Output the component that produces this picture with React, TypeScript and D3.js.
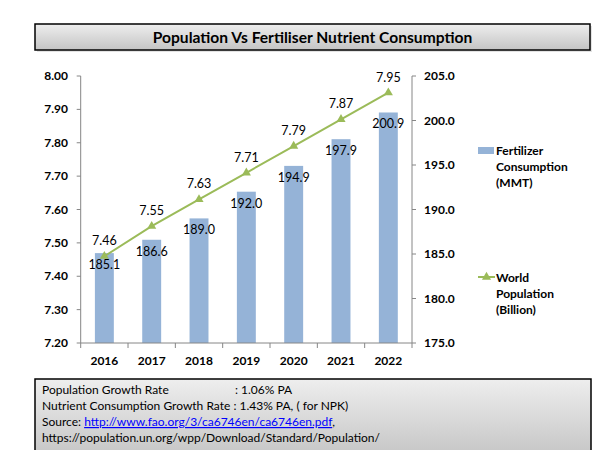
import React from "react";
import * as d3 from "d3";

const years = ["2016", "2017", "2018", "2019", "2020", "2021", "2022"];
const fertilizer = [185.1, 186.6, 189.0, 192.0, 194.9, 197.9, 200.9];
const population = [7.46, 7.55, 7.63, 7.71, 7.79, 7.87, 7.95];
const leftTicks = [7.2, 7.3, 7.4, 7.5, 7.6, 7.7, 7.8, 7.9, 8.0];
const rightTicks = [175, 180, 185, 190, 195, 200, 205];
const title = "Population Vs Fertiliser Nutrient Consumption";
const legendBar = ["Fertilizer", "Consumption", "(MMT)"];
const legendLine = ["World", "Population", "(Billion)"];

const FONT = "Lato, 'Open Sans', sans-serif";
const AXIS = "#868686";
const BAR = "#95B3D7";
const LINE = "#9BBB59";

export default function App() {
  const left = 80.7, right = 412, top = 76, bottom = 343;
  const x = d3.scaleBand<string>().domain(years).range([left, right]).paddingInner(0.6).paddingOuter(0.3);
  const yL = d3.scaleLinear().domain([7.2, 8.0]).range([bottom, top]);
  const yR = d3.scaleLinear().domain([175, 205]).range([bottom, top]);
  const step = x.step();
  const cx = (y: string) => (x(y) as number) + x.bandwidth() / 2;
  const line = d3.line<number>().x((_, i) => cx(years[i])).y((d) => yL(d));
  const tri = d3.symbol().type(d3.symbolTriangle).size(36)();

  return (
    <svg width={600} height={450} style={{ position: "absolute", left: 0, top: 0, background: "#fff" }} fontFamily={FONT}>
      <defs>
        <linearGradient id="g" x1="0" y1="0" x2="0" y2="1">
          <stop offset="0" stopColor="#eeeeee" />
          <stop offset="1" stopColor="#c4c4c4" />
        </linearGradient>
      </defs>
      {/* title box */}
      <rect x={37} y={26} width={555} height={26} fill="#d0d0d0" opacity={0.6} />
      <rect x={35} y={24} width={555} height={26} fill="url(#g)" stroke="#000" strokeWidth={1.5} />
      <text x={312.5} y={43} textAnchor="middle" fontWeight="bold" fontSize={15.6} fill="#000">{title}</text>

      {/* bars */}
      {fertilizer.map((v, i) => (
        <rect key={years[i]} x={x(years[i])} y={yR(v)} width={x.bandwidth()} height={bottom - yR(v)} fill={BAR} />
      ))}

      {/* left axis */}
      <line x1={left} x2={left} y1={top} y2={bottom} stroke={AXIS} />
      {leftTicks.map((t) => (
        <g key={t}>
          <line x1={left - 4} x2={left} y1={yL(t)} y2={yL(t)} stroke={AXIS} />
          <text x={68} y={yL(t) + 4} textAnchor="end" fontWeight="bold" fontSize={12}>{d3.format(".2f")(t)}</text>
        </g>
      ))}
      {/* right axis */}
      <line x1={right} x2={right} y1={top} y2={bottom} stroke={AXIS} />
      {rightTicks.map((t) => (
        <g key={t}>
          <line x1={right} x2={right + 4} y1={yR(t)} y2={yR(t)} stroke={AXIS} />
          <text x={424} y={yR(t) + 4} textAnchor="start" fontWeight="bold" fontSize={12}>{d3.format(".1f")(t)}</text>
        </g>
      ))}
      {/* x axis */}
      <line x1={left} x2={right} y1={bottom} y2={bottom} stroke={AXIS} />
      {years.map((y, i) => (
        <g key={y}>
          <line x1={cx(y) - step / 2} x2={cx(y) - step / 2} y1={bottom} y2={bottom + 5} stroke={AXIS} />
          {i === years.length - 1 && <line x1={right} x2={right} y1={bottom} y2={bottom + 5} stroke={AXIS} />}
          <text x={cx(y)} y={365} textAnchor="middle" fontWeight="bold" fontSize={12}>{y}</text>
        </g>
      ))}

      {/* line */}
      <path d={line(population) || ""} fill="none" stroke={LINE} strokeWidth={2} />
      {population.map((v, i) => (
        <path key={i} d={tri || ""} transform={`translate(${cx(years[i])},${yL(v)})`} fill={LINE} />
      ))}

      {/* labels */}
      {fertilizer.map((v, i) => (
        <text key={"f" + i} x={cx(years[i])} y={yR(v) + 16} textAnchor="middle" fontSize={12.5}>{d3.format(".1f")(v)}</text>
      ))}
      {population.map((v, i) => (
        <text key={"p" + i} x={cx(years[i])} y={yL(v) - 11} textAnchor="middle" fontSize={12.5}>{d3.format(".2f")(v)}</text>
      ))}

      {/* legend */}
      <rect x={478} y={147} width={16} height={7} fill={BAR} />
      {legendBar.map((t, i) => (
        <text key={t} x={496} y={155 + i * 16} fontWeight="bold" fontSize={12}>{t}</text>
      ))}
      <line x1={478} x2={495} y1={277} y2={277} stroke={LINE} strokeWidth={2} />
      <path d={tri || ""} transform="translate(486.5,277)" fill={LINE} />
      {legendLine.map((t, i) => (
        <text key={t} x={496} y={282 + i * 16} fontWeight="bold" fontSize={12}>{t}</text>
      ))}

      {/* bottom box */}
      <rect x={35} y={379} width={556} height={80} fill="url(#g)" stroke="#000" strokeWidth={1.5} />
      <g fontSize={12} fill="#000">
        <text x={42} y={394}>Population Growth Rate</text>
        <text x={235} y={394}>: 1.06% PA</text>
        <text x={42} y={410}>Nutrient Consumption Growth Rate : 1.43% PA, ( for NPK)</text>
        <text x={42} y={426}>
          Source: <tspan fill="#0000FF" textDecoration="underline">http://www.fao.org/3/ca6746en/ca6746en.pdf</tspan>,
        </text>
        <text x={42} y={442}>https://population.un.org/wpp/Download/Standard/Population/</text>
      </g>
    </svg>
  );
}
